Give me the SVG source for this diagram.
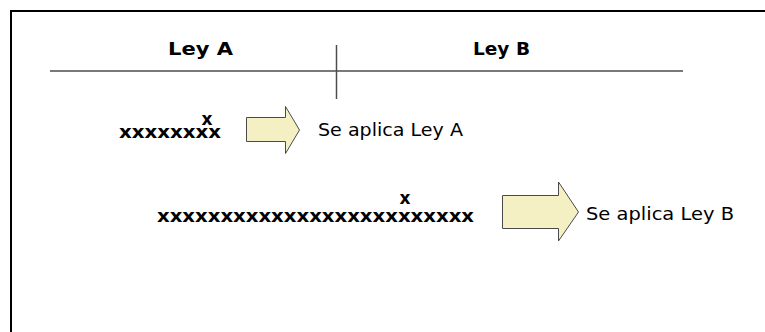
<svg xmlns="http://www.w3.org/2000/svg" width="765" height="332" viewBox="0 0 765 332">
  <style>
    .head { font-family: "DejaVu Sans", Verdana, sans-serif; font-weight: bold; font-size: 18px; fill: #000; }
    .lbl { font-family: "DejaVu Sans", Verdana, sans-serif; font-size: 18px; fill: #000; }
    .xs { font-family: "DejaVu Sans", Verdana, sans-serif; font-weight: bold; font-size: 17px; fill: #000; }
    .arrow { fill: #f5efc4; stroke: #4a4a4a; stroke-width: 1; }
    .rule { stroke: #4d4d4d; stroke-width: 1.5; fill: none; }
  </style>
  <rect width="765" height="332" fill="#fff"/>
  <!-- frame: open on the right and bottom -->
  <path d="M11 340 V11 H770" fill="none" stroke="#000" stroke-width="2"/>

  <g id="axis">
    <line class="rule" x1="50" y1="71" x2="683" y2="71"/>
    <line class="rule" x1="336.5" y1="45" x2="336.5" y2="99"/>
  </g>

  <g id="ley-a"><text class="head" x="168" y="55" textLength="65" lengthAdjust="spacingAndGlyphs">Ley A</text></g>
  <g id="ley-b"><text class="head" x="473" y="55" textLength="57" lengthAdjust="spacingAndGlyphs">Ley B</text></g>

  <g id="caso-a">
    <text class="xs" x="207" y="125" text-anchor="middle">x</text>
    <text class="xs" x="119" y="138" textLength="102" lengthAdjust="spacingAndGlyphs">xxxxxxxx</text>
  </g>
  <g id="caso-b">
    <text class="xs" x="405" y="204" text-anchor="middle">x</text>
    <text class="xs" x="157" y="222" textLength="317" lengthAdjust="spacingAndGlyphs">xxxxxxxxxxxxxxxxxxxxxxxxx</text>
  </g>

  <g id="flechas">
    <path class="arrow" d="M246.5 117.5 H285.5 V106.5 L299.5 130 L285.5 153.5 V141.5 H246.5 Z"/>
    <path class="arrow" d="M502.5 195.5 H558.5 V182 L578.5 212 L558.5 241 V228.5 H502.5 Z"/>
  </g>

  <g id="resultado-a"><text class="lbl" x="318" y="136" textLength="145" lengthAdjust="spacingAndGlyphs">Se aplica Ley A</text></g>
  <g id="resultado-b"><text class="lbl" x="586" y="220" textLength="148" lengthAdjust="spacingAndGlyphs">Se aplica Ley B</text></g>
</svg>
